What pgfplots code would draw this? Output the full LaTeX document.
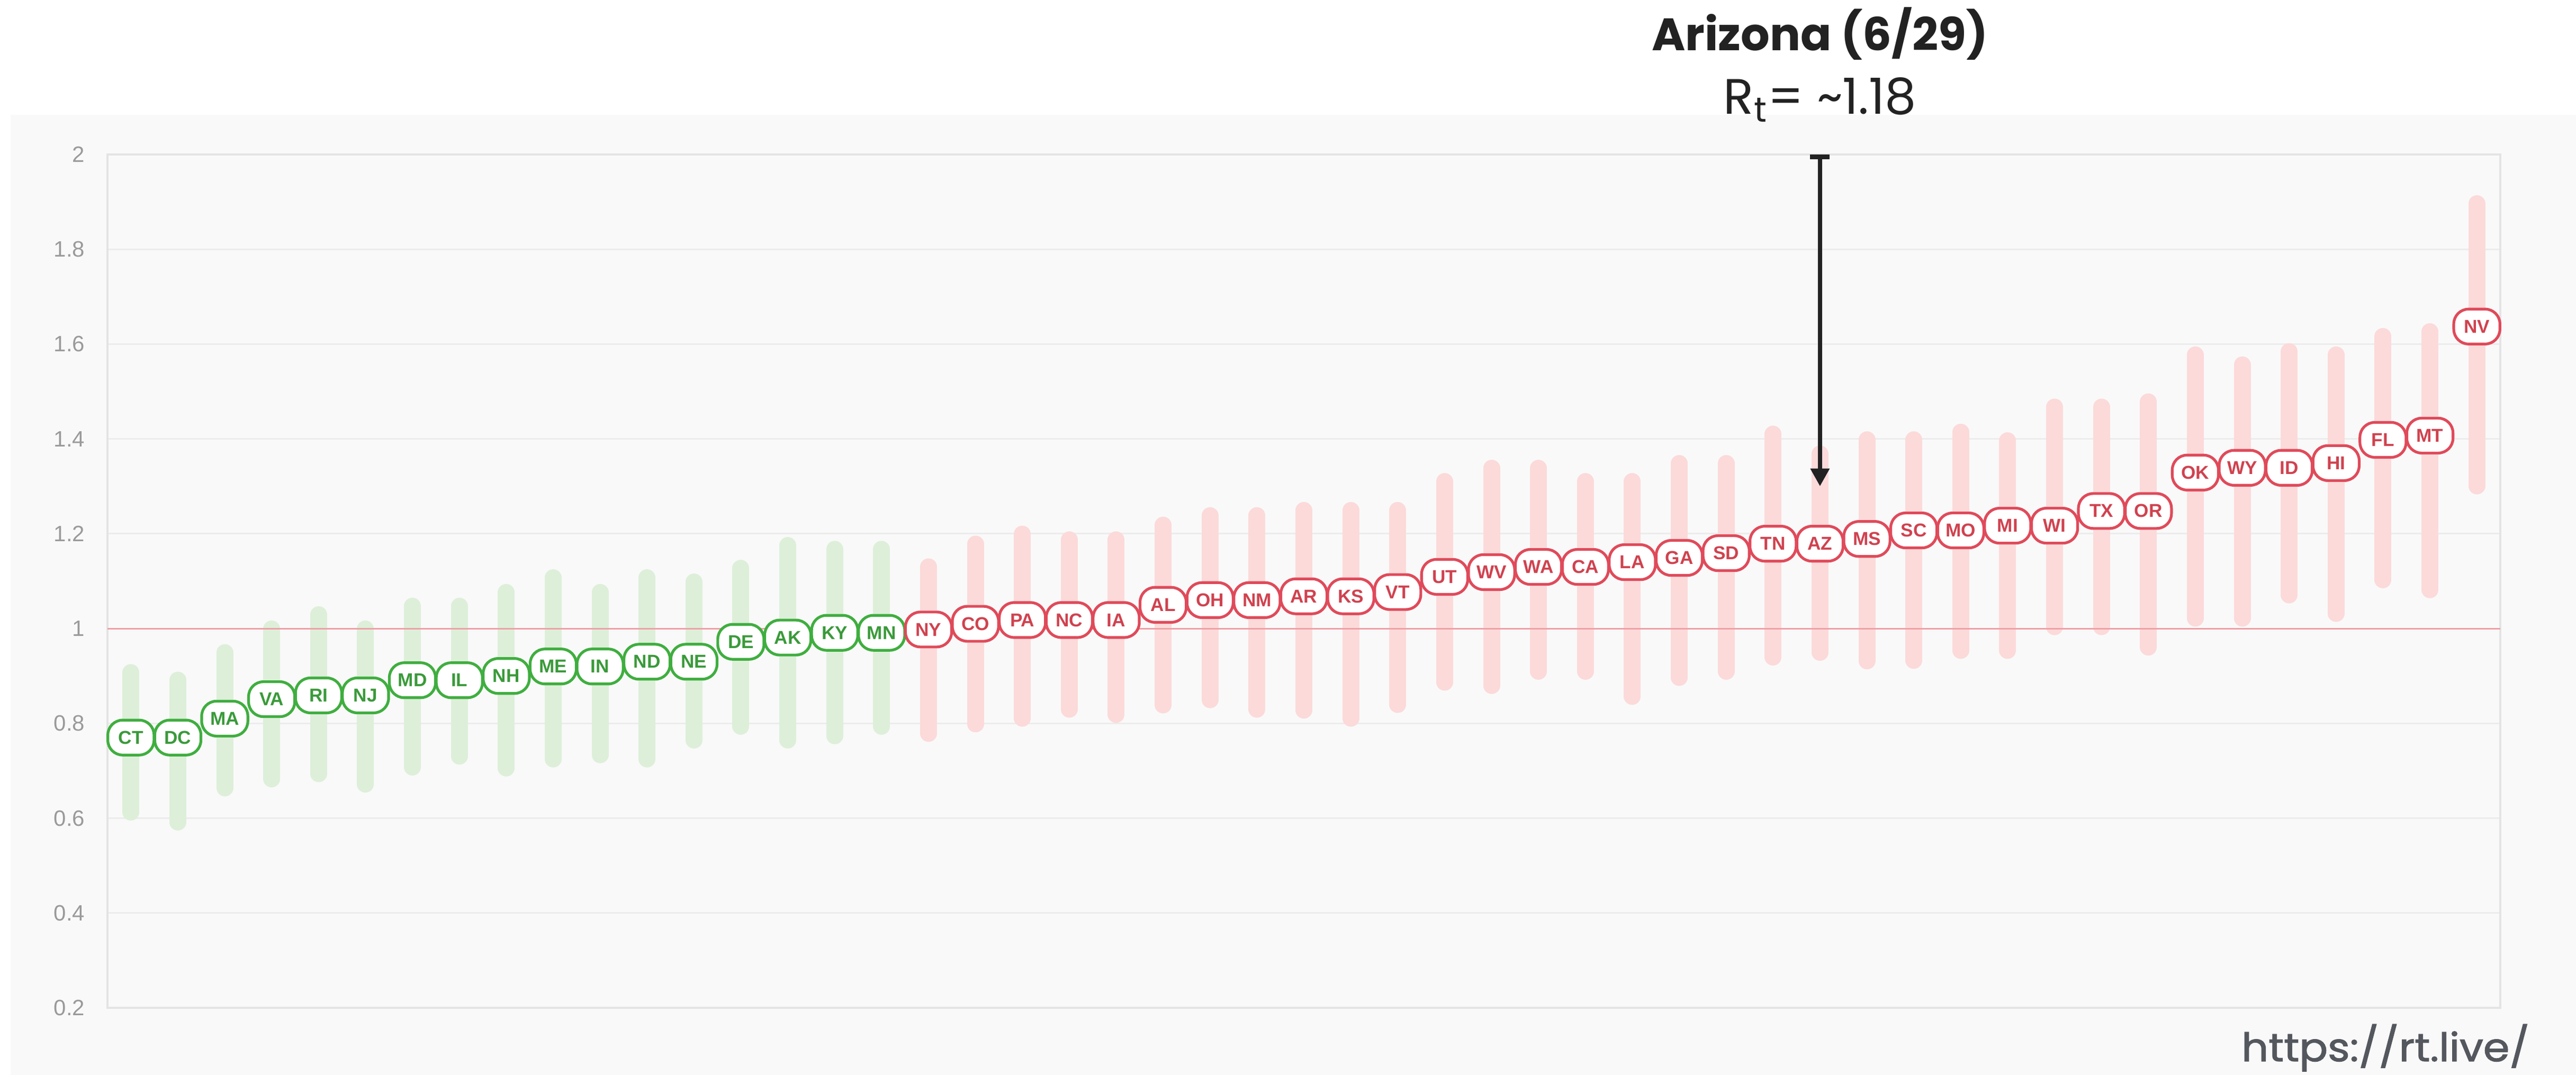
\documentclass[border=0pt]{standalone}
\usepackage{fontspec}
\setmainfont{Liberation Sans}
\newfontfamily\popfont{Poppins}
\newfontfamily\urlfont[FakeBold=1.6]{Poppins}
\usepackage{pgfplots}
\usepackage{pgfplotstable}
\pgfplotsset{compat=1.18}
\usetikzlibrary{arrows.meta}

\definecolor{panel}{HTML}{F9F9F9}
\definecolor{gridc}{HTML}{ECECEC}
\definecolor{framec}{HTML}{E4E4E4}
\definecolor{tickc}{HTML}{9A9A9A}
\definecolor{gbar}{HTML}{DDEFD9}
\definecolor{gline}{HTML}{3FAE3F}
\definecolor{gtext}{HTML}{3A9A3A}
\definecolor{rbar}{HTML}{FCDADA}
\definecolor{rline}{HTML}{E04A5A}
\definecolor{rtext}{HTML}{D0424F}
\definecolor{oneline}{HTML}{F0A0A8}
\definecolor{urlc}{HTML}{54585E}
\definecolor{annot}{HTML}{222222}

\pgfplotstableread{
i name mid lo hi
0 CT 0.770 0.595 0.925
1 DC 0.770 0.574 0.909
2 MA 0.810 0.646 0.967
3 VA 0.851 0.665 1.017
4 RI 0.859 0.676 1.047
5 NJ 0.859 0.654 1.017
6 MD 0.891 0.690 1.065
7 IL 0.891 0.713 1.065
8 NH 0.900 0.688 1.094
9 ME 0.920 0.707 1.125
10 IN 0.920 0.716 1.094
11 ND 0.930 0.707 1.125
12 NE 0.930 0.747 1.116
13 DE 0.972 0.776 1.145
14 AK 0.981 0.747 1.193
15 KY 0.991 0.756 1.185
16 MN 0.991 0.776 1.185
}\greendata

\pgfplotstableread{
i name mid lo hi
17 NY 0.998 0.761 1.148
18 CO 1.010 0.781 1.196
19 PA 1.018 0.793 1.217
20 NC 1.018 0.812 1.205
21 IA 1.018 0.801 1.205
22 AL 1.050 0.821 1.236
23 OH 1.060 0.832 1.256
24 NM 1.060 0.812 1.256
25 AR 1.068 0.810 1.267
26 KS 1.068 0.793 1.267
27 VT 1.077 0.822 1.267
28 UT 1.109 0.869 1.328
29 WV 1.119 0.862 1.356
30 WA 1.130 0.892 1.356
31 CA 1.130 0.892 1.328
32 LA 1.140 0.839 1.328
33 GA 1.149 0.879 1.366
34 SD 1.159 0.892 1.366
35 TN 1.179 0.922 1.428
36 AZ 1.179 0.932 1.386
37 MS 1.189 0.914 1.416
38 SC 1.207 0.915 1.416
39 MO 1.207 0.936 1.432
40 MI 1.217 0.936 1.414
41 WI 1.217 0.986 1.485
42 TX 1.248 0.986 1.485
43 OR 1.248 0.943 1.496
44 OK 1.329 1.004 1.595
45 WY 1.339 1.004 1.574
46 ID 1.339 1.053 1.602
47 HI 1.349 1.014 1.595
48 FL 1.398 1.085 1.634
49 MT 1.407 1.064 1.644
50 NV 1.637 1.283 1.914
}\reddata

\tikzset{
  pill/.style={rectangle, rounded corners=7bp, fill=white, line width=1.3bp,
    minimum width=21.8bp, minimum height=16.5bp, inner sep=0pt, anchor=center,
    font=\fontsize{8.8bp}{10bp}\selectfont\bfseries},
}

\begin{document}
\begin{tikzpicture}
\fill[white] (0,0) rectangle (1216.5bp,508bp);
\path[use as bounding box] (0,0) rectangle (1216.5bp,508bp);
\fill[panel] (5bp,0) rectangle (1216.5bp,453.75bp);

\node[anchor=base, text=annot, font=\popfont\bfseries\fontsize{21.5bp}{24bp}\selectfont, inner sep=0pt]
  at (859.5bp,484bp) {Arizona (6/29)};
\node[anchor=base, text=annot, font=\popfont\fontsize{23.5bp}{26bp}\selectfont, inner sep=0pt]
  at (859.5bp,454bp) {R\textsubscript{t}= \textasciitilde1.18};
\node[anchor=base east, text=urlc, inner sep=0pt]
  at (1194.75bp,6.5bp) {\resizebox{136bp}{17.5bp}{\urlfont https://rt.live/}};

\begin{axis}[
  at={(50.75bp,31.75bp)}, anchor=south west,
  scale only axis, width=1130bp, height=403.25bp,
  xmin=-0.5, xmax=50.5, ymin=0.2, ymax=2,
  xtick=\empty,
  ytick={0.2,0.4,0.6,0.8,1,1.2,1.4,1.6,1.8,2},
  ymajorgrids, grid style={draw=gridc, line width=0.8bp},
  axis line style={draw=framec, line width=0.8bp},
  major tick length=0pt,
  /pgf/number format/assume math mode=true,
  yticklabel style={font=\fontsize{10.5bp}{12bp}\selectfont, text=tickc, anchor=east, inner sep=0pt, xshift=-10.5bp},
  clip=false,
]
% bars
\addplot [only marks, mark=none,
  error bars/.cd, y dir=both, y explicit, error mark=none,
  error bar style={line width=8bp, draw=gbar, line cap=round, shorten <=4bp, shorten >=4bp}]
  table [x=i, y=mid, y error plus expr=\thisrow{hi}-\thisrow{mid}, y error minus expr=\thisrow{mid}-\thisrow{lo}] {\greendata};
\addplot [only marks, mark=none,
  error bars/.cd, y dir=both, y explicit, error mark=none,
  error bar style={line width=8bp, draw=rbar, line cap=round, shorten <=4bp, shorten >=4bp}]
  table [x=i, y=mid, y error plus expr=\thisrow{hi}-\thisrow{mid}, y error minus expr=\thisrow{mid}-\thisrow{lo}] {\reddata};
% threshold line
\addplot [oneline, line width=0.8bp] coordinates {(-0.5,1) (50.5,1)};
% pills
\addplot [only marks, mark=none, point meta=explicit symbolic,
  nodes near coords, nodes near coords align=center,
  every node near coord/.style={pill, draw=gline, text=gtext}]
  table [x=i, y=mid, meta=name] {\greendata};
\addplot [only marks, mark=none, point meta=explicit symbolic,
  nodes near coords, nodes near coords align=center,
  every node near coord/.style={pill, draw=rline, text=rtext}]
  table [x=i, y=mid, meta=name] {\reddata};
% annotation arrow
\draw[annot, line width=2.2bp, {Bar[width=9.25bp]}-{Triangle[width=8.6bp,length=8.4bp]}]
  (axis cs:36,2.0) -- (axis cs:36,1.30);
\end{axis}
\end{tikzpicture}
\end{document}
